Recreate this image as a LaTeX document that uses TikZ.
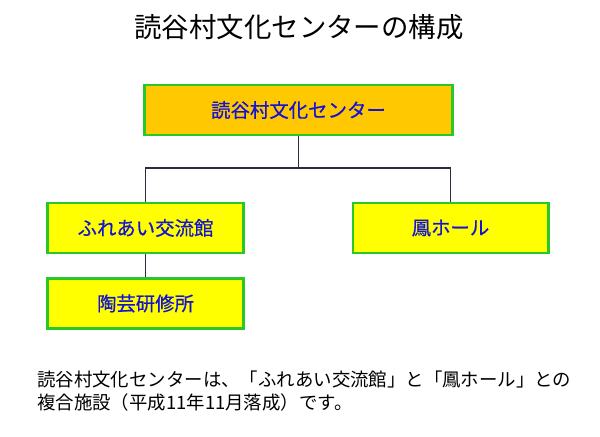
\documentclass[tikz,border=0pt]{standalone}
\usepackage{fontspec}
\newfontfamily\jpfont{Noto Sans CJK JP}
\newfontfamily\jpboxfont[FakeBold=0.6]{Noto Sans CJK JP}
\usepackage{xcolor}
\definecolor{ymgreen}{RGB}{40,200,40}
\definecolor{ymorange}{RGB}{255,200,0}
\definecolor{ymyellow}{RGB}{255,255,0}
\definecolor{ymblue}{RGB}{20,20,210}
\definecolor{ymline}{RGB}{50,40,60}
\usetikzlibrary{positioning}

\begin{document}
\begin{tikzpicture}[x=0.025cm, y=-0.025cm,
  unitbox/.style={draw=ymgreen, line width=2.1pt, minimum width=4.875cm,
      minimum height=1.25cm, inner sep=0pt, text=ymblue,
      font=\jpboxfont\fontsize{13.8pt}{16pt}\selectfont},
  link/.style={draw=ymline, line width=1pt},
  bodytext/.style={anchor=base west, inner sep=0pt,
      font=\jpfont\fontsize{13.1pt}{16pt}\selectfont}]

\useasboundingbox[fill=white] (0,0) rectangle (600,436);

% === Title ===
\node[font=\jpfont\fontsize{19.5pt}{22pt}\selectfont] (title) at (299,27) {読谷村文化センターの構成};

% === Top: the centre itself ===
\node[unitbox, fill=ymorange, minimum width=7.7cm] (center) at (298.5,110) {読谷村文化センター};

% === Middle row ===
\node[unitbox, fill=ymyellow] (fureai) at (145.5,228) {ふれあい交流館};
\node[unitbox, fill=ymyellow] (hall) at (450.5,228) {鳳ホール};

% === Bottom row ===
\node[unitbox, fill=ymyellow] (tougei) at (145.5,303.5) {陶芸研修所};

% Connectors
\coordinate (fork) at (298.5,168);
\draw[link] (center.south) -- (fork);
\draw[link] (fureai.north) |- (fork) -| (hall.north);
\draw[link] (fureai.south) -- (tougei.north);

% Note below
\node[bodytext] (note1) at (37,386) {読谷村文化センターは、「ふれあい交流館」と「鳳ホール」との};
\node[bodytext] (note2) at (37,409) {複合施設（平成11年11月落成）です。};

\end{tikzpicture}
\end{document}
